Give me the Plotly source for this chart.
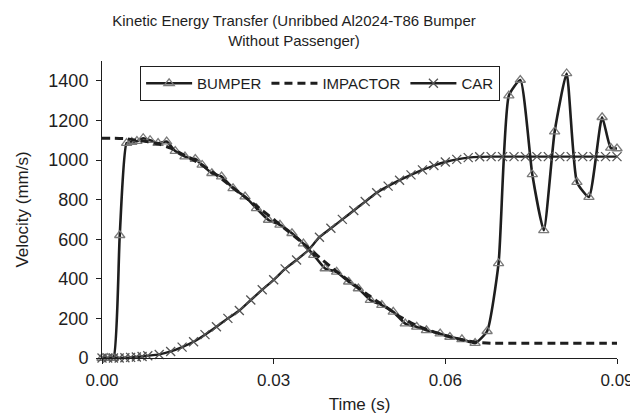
import plotly.graph_objects as go

# ---- data (time in seconds, velocity in mm/s) ----
bumper_t = [0.0, 0.001, 0.002, 0.0031, 0.0043, 0.0052, 0.0061, 0.0072, 0.0084, 0.0098,
            0.0113, 0.0128, 0.0145, 0.0163, 0.0175, 0.0192, 0.0209, 0.0229, 0.0250, 0.0270,
            0.0291, 0.0311, 0.0332, 0.0352, 0.0370, 0.0390, 0.0410, 0.0431, 0.0448, 0.0469,
            0.0489, 0.0509, 0.0530, 0.0550, 0.0567, 0.0591, 0.0608, 0.0629, 0.0652, 0.0673,
            0.0693, 0.0711, 0.0731, 0.0752, 0.0772, 0.0791, 0.0812, 0.0830, 0.0851, 0.0874,
            0.0889, 0.0900]
bumper_v = [0, 0, 0, 620, 1085, 1090, 1095, 1110, 1100, 1085,
            1093, 1045, 1017, 1005, 975, 933, 916, 857, 815, 756,
            697, 672, 630, 578, 520, 452, 435, 385, 351, 292,
            267, 233, 174, 157, 140, 123, 106, 94, 75, 135,
            478, 1325, 1404, 927, 645, 1143, 1437, 888, 813, 1216,
            1061, 1058]

impactor_t = [0.0, 0.002, 0.004, 0.006, 0.008, 0.010, 0.012, 0.014, 0.016, 0.018,
              0.020, 0.022, 0.024, 0.026, 0.028, 0.030, 0.032, 0.034, 0.036, 0.038,
              0.040, 0.042, 0.044, 0.046, 0.048, 0.050, 0.052, 0.054, 0.056, 0.058,
              0.060, 0.062, 0.064, 0.066, 0.068, 0.070, 0.072, 0.074, 0.076, 0.078,
              0.080, 0.082, 0.084, 0.086, 0.088, 0.090]
impactor_v = [1110, 1110, 1108, 1100, 1092, 1080, 1060, 1030, 1000, 965,
              925, 880, 835, 790, 745, 700, 652, 606, 558, 508,
              460, 415, 372, 328, 288, 250, 210, 178, 152, 132,
              114, 98, 86, 78, 75, 75, 75, 75, 75, 75,
              75, 75, 75, 75, 75, 75]

car_t = [0.0, 0.001, 0.002, 0.003, 0.004, 0.005, 0.006, 0.007, 0.008, 0.010,
         0.012, 0.014, 0.016, 0.018, 0.020, 0.022, 0.024, 0.026, 0.028, 0.030,
         0.032, 0.034, 0.036, 0.038, 0.040, 0.042, 0.044, 0.046, 0.048, 0.050,
         0.052, 0.054, 0.056, 0.058, 0.060, 0.062, 0.064, 0.066, 0.068, 0.070,
         0.072, 0.074, 0.076, 0.078, 0.080, 0.082, 0.084, 0.086, 0.088, 0.090]
car_v = [0, 0, 0, 0, 1, 3, 5, 8, 11, 18,
         33, 55, 82, 118, 158, 200, 240, 293, 345, 395,
         450, 495, 543, 610, 655, 700, 745, 790, 835, 868,
         898, 925, 950, 972, 990, 1003, 1012, 1016, 1017, 1017,
         1017, 1017, 1017, 1017, 1017, 1017, 1017, 1017, 1017, 1017]

x_ticks = [0.0, 0.03, 0.06, 0.09]
y_ticks = [0, 200, 400, 600, 800, 1000, 1200, 1400]

FONT = "Liberation Sans, Arial, sans-serif"
INK = "#1e1e1e"

fig = go.Figure()
fig.add_trace(go.Scatter(
    x=bumper_t, y=bumper_v, name="BUMPER", mode="lines+markers",
    line=dict(color=INK, width=2.6, shape="spline", smoothing=0.5),
    marker=dict(symbol="triangle-up-open", size=9, color="#7a7a7a", line=dict(width=1.3)),
    cliponaxis=False))
fig.add_trace(go.Scatter(
    x=impactor_t, y=impactor_v, name="IMPACTOR", mode="lines",
    line=dict(color=INK, width=3, dash="8px,5px", shape="spline", smoothing=0.5)))
fig.add_trace(go.Scatter(
    x=car_t, y=car_v, name="CAR", mode="lines+markers",
    line=dict(color=INK, width=2.4, shape="spline", smoothing=0.5),
    marker=dict(symbol="x-thin-open", size=9, color="#555555", line=dict(width=1.3)),
    cliponaxis=False))

# the page adds an 8px body margin; the figure is shifted to compensate
fig.update_layout(
    width=638, height=408,
    margin=dict(l=94, r=29, t=53, b=58),
    paper_bgcolor="white", plot_bgcolor="white",
    font=dict(family=FONT, color=INK),
    title=dict(text="Kinetic Energy Transfer (Unribbed Al2024-T86 Bumper<br>Without Passenger)",
               x=286 / 638, xanchor="center", xref="container",
               y=0.955, yanchor="top", yref="container",
               font=dict(size=15, family=FONT, color=INK)),
    showlegend=True,
    legend=dict(orientation="h", x=0.074, y=0.983, xanchor="left", yanchor="top",
                bgcolor="white", bordercolor=INK, borderwidth=1,
                font=dict(size=15, family=FONT, color=INK),
                itemwidth=46, tracegroupgap=0),
)
fig.update_xaxes(range=[0, 0.09], tickvals=x_ticks, tickformat=".2f", automargin=False,
                 showgrid=False, zeroline=False, showline=True, linecolor=INK, linewidth=1,
                 ticks="outside", ticklen=5, tickcolor=INK, ticklabelstandoff=2,
                 ticklabeloverflow="allow",
                 tickfont=dict(size=17, family=FONT, color=INK),
                 title=dict(text="Time (s)", font=dict(size=17, family=FONT, color=INK), standoff=8))
fig.update_yaxes(range=[0, 1500], tickvals=y_ticks, automargin=False,
                 showgrid=False, zeroline=False, showline=True, linecolor=INK, linewidth=1,
                 ticks="outside", ticklen=5, tickcolor=INK, ticklabelstandoff=4,
                 tickfont=dict(size=18, family=FONT, color=INK),
                 title=dict(text="Velocity (mm/s)", font=dict(size=17, family=FONT, color=INK), standoff=15))

fig.write_html("out.html")
